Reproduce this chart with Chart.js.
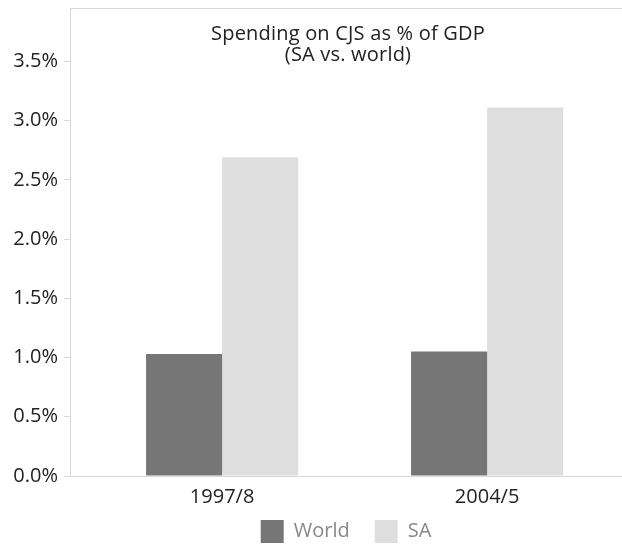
<!DOCTYPE html>
<html>
<head>
<meta charset="utf-8">
<script src="https://cdn.jsdelivr.net/npm/chart.js@4/dist/chart.umd.min.js"></script>
<style>
  html, body { margin: 0; padding: 0; background: #fff; }
  #wrap { width: 622px; height: 545px; }
</style>
</head>
<body>
<div id="wrap"><canvas id="chart"></canvas></div>
<script>
const periods = ['1997/8', '2004/5'];
const worldValues = [1.03, 1.05];
const saValues = [2.69, 3.11];
const yTicks = [0, 0.5, 1, 1.5, 2, 2.5, 3, 3.5];
const titleLines = ['Spending on CJS as % of GDP', '(SA vs. world)'];

const fontFamily = '"Open Sans", "DejaVu Sans", sans-serif';

// title sits inside the plot area, plus a thin top border
const insideTitle = {
    id: 'insideTitle',
    afterDraw(chart) {
        const { ctx, chartArea } = chart;
        ctx.save();
        ctx.strokeStyle = '#d9d9d9';
        ctx.lineWidth = 1;
        ctx.beginPath();
        ctx.moveTo(chartArea.left, chartArea.top + 0.5);
        ctx.lineTo(chartArea.right, chartArea.top + 0.5);
        ctx.stroke();

        ctx.fillStyle = '#222';
        ctx.font = '20px ' + fontFamily;
        ctx.letterSpacing = '0.2px';
        ctx.textAlign = 'center';
        ctx.textBaseline = 'alphabetic';
        const cx = (chartArea.left + chartArea.right) / 2 + 2;
        titleLines.forEach((line, i) => {
            ctx.fillText(line, cx, chartArea.top + 32 + i * 21);
        });
        ctx.restore();
    }
};

const toPoints = vals => vals.map((v, i) => ({ x: i, y: v }));

new Chart(document.getElementById('chart'), {
    type: 'bar',
    data: {
        datasets: [
            { label: 'World', data: toPoints(worldValues), backgroundColor: '#767676' },
            { label: 'SA', data: toPoints(saValues), backgroundColor: '#dedede' }
        ]
    },
    options: {
        responsive: true,
        maintainAspectRatio: false,
        animation: false,
        layout: { padding: { top: 8, right: 0, left: 0, bottom: -8 } },
        datasets: {
            bar: { categoryPercentage: 0.574, barPercentage: 1.0 }
        },
        scales: {
            x: {
                type: 'linear',
                offset: false,
                min: -0.574,
                max: 1.509,
                afterBuildTicks(axis) {
                    axis.ticks = periods.map((p, i) => ({ value: i }));
                },
                afterFit(axis) {
                    axis.height = 19;
                    axis.paddingLeft = 0;
                    axis.paddingRight = 0;
                    // let the labels spill below the squeezed axis box
                    axis._computeLabelArea = () => undefined;
                },
                grid: { display: false, offset: false },
                border: { display: true, color: '#d9d9d9' },
                ticks: {
                    color: '#222',
                    font: { size: 20, family: fontFamily },
                    padding: 1,
                    callback: v => periods[v]
                }
            },
            y: {
                min: 0,
                max: 3.95,
                afterBuildTicks(axis) {
                    axis.ticks = yTicks.map(v => ({ value: v }));
                },
                afterFit(axis) {
                    axis.width = 70;
                    axis.paddingTop = 0;
                    axis.paddingBottom = 0;
                },
                grid: { drawOnChartArea: false, tickLength: 6, color: '#d9d9d9' },
                border: { display: true, color: '#d9d9d9' },
                ticks: {
                    color: '#222',
                    font: { size: 20, family: fontFamily },
                    padding: 6,
                    callback: v => v.toFixed(1) + '%'
                }
            }
        },
        plugins: {
            legend: {
                position: 'bottom',
                fullSize: false,
                labels: {
                    color: '#888',
                    font: { size: 20, family: fontFamily },
                    boxWidth: 23,
                    boxHeight: 23,
                    padding: 25
                }
            },
            tooltip: { enabled: false }
        }
    },
    plugins: [insideTitle]
});
</script>
</body>
</html>
